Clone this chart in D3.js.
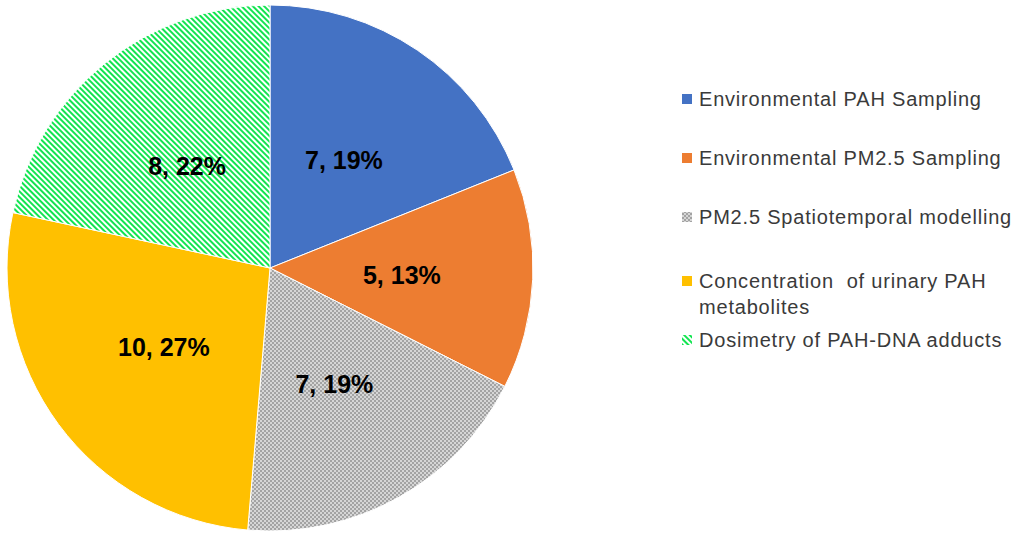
<!DOCTYPE html>
<html>
<head>
<meta charset="utf-8">
<script src="https://cdn.jsdelivr.net/npm/d3@7"></script>
<style>
  body { margin: 0; background: #fff; }
  text { font-family: "Liberation Sans", Arial, sans-serif; }
</style>
</head>
<body>
<svg id="chart" width="1013" height="535"></svg>
<script>
// data
var categories = ["Environmental PAH Sampling", "Environmental PM2.5 Sampling",
  "PM2.5 Spatiotemporal modelling", "Concentration  of urinary PAH|metabolites",
  "Dosimetry of PAH-DNA adducts"];
var counts = [7, 5, 7, 10, 8];
var percents = ["19%", "13%", "19%", "27%", "22%"];

var svg = d3.select("#chart");
var defs = svg.append("defs");

// grey checker pattern
var chk = defs.append("pattern").attr("id", "checker")
  .attr("width", 4).attr("height", 4).attr("patternUnits", "userSpaceOnUse");
chk.append("rect").attr("width", 4).attr("height", 4).attr("fill", "#d6d6d6");
chk.append("rect").attr("width", 2).attr("height", 2).attr("fill", "#a3a3a3");
chk.append("rect").attr("x", 2).attr("y", 2).attr("width", 2).attr("height", 2).attr("fill", "#a3a3a3");

// green diagonal stripes, running top-left to bottom-right
var str = defs.append("pattern").attr("id", "stripes")
  .attr("width", 4).attr("height", 4).attr("patternUnits", "userSpaceOnUse")
  .attr("patternTransform", "rotate(-45)");
str.append("rect").attr("width", 4).attr("height", 4).attr("fill", "#fff");
str.append("rect").attr("width", 2).attr("height", 4).attr("fill", "#12e550");

var fills = ["#4472C4", "#ED7D31", "url(#checker)", "#FFC000", "url(#stripes)"];

var cx = 270, cy = 268, r = 263;

var pie = d3.pie().sort(null).value(function(d) { return d; });
var arcs = pie(counts);
var arc = d3.arc().innerRadius(0).outerRadius(r);
var labelArc = d3.arc().innerRadius(132).outerRadius(132);

var g = svg.append("g").attr("transform", "translate(" + cx + "," + cy + ")");

g.selectAll("path.slice")
  .data(arcs)
  .enter().append("path")
  .attr("class", "slice")
  .attr("d", arc)
  .attr("fill", function(d, i) { return fills[i]; })
  .attr("stroke", "#fff")
  .attr("stroke-width", 1);

g.selectAll("text.lbl")
  .data(arcs)
  .enter().append("text")
  .attr("class", "lbl")
  .attr("transform", function(d) { return "translate(" + labelArc.centroid(d) + ")"; })
  .attr("text-anchor", "middle")
  .attr("dy", "0.4em")
  .style("font-size", "25px")
  .style("font-weight", "bold")
  .attr("fill", "#000")
  .text(function(d, i) { return counts[i] + ", " + percents[i]; });

// legend
var legendY = [99, 158, 217, 281, 340];
var legend = svg.append("g");
categories.forEach(function(c, i) {
  var row = legend.append("g").attr("transform", "translate(682," + legendY[i] + ")");
  row.append("rect").attr("x", 0).attr("y", -5).attr("width", 10).attr("height", 10)
    .attr("fill", fills[i]);
  var t = row.append("text").attr("y", 0)
    .style("font-size", "20px").style("letter-spacing", "0.8px").attr("fill", "#3a3a3a");
  c.split("|").forEach(function(line, j) {
    t.append("tspan").attr("x", 17).attr("dy", j === 0 ? "0.36em" : "1.3em")
      .attr("xml:space", "preserve").text(line);
  });
});
</script>
</body>
</html>
